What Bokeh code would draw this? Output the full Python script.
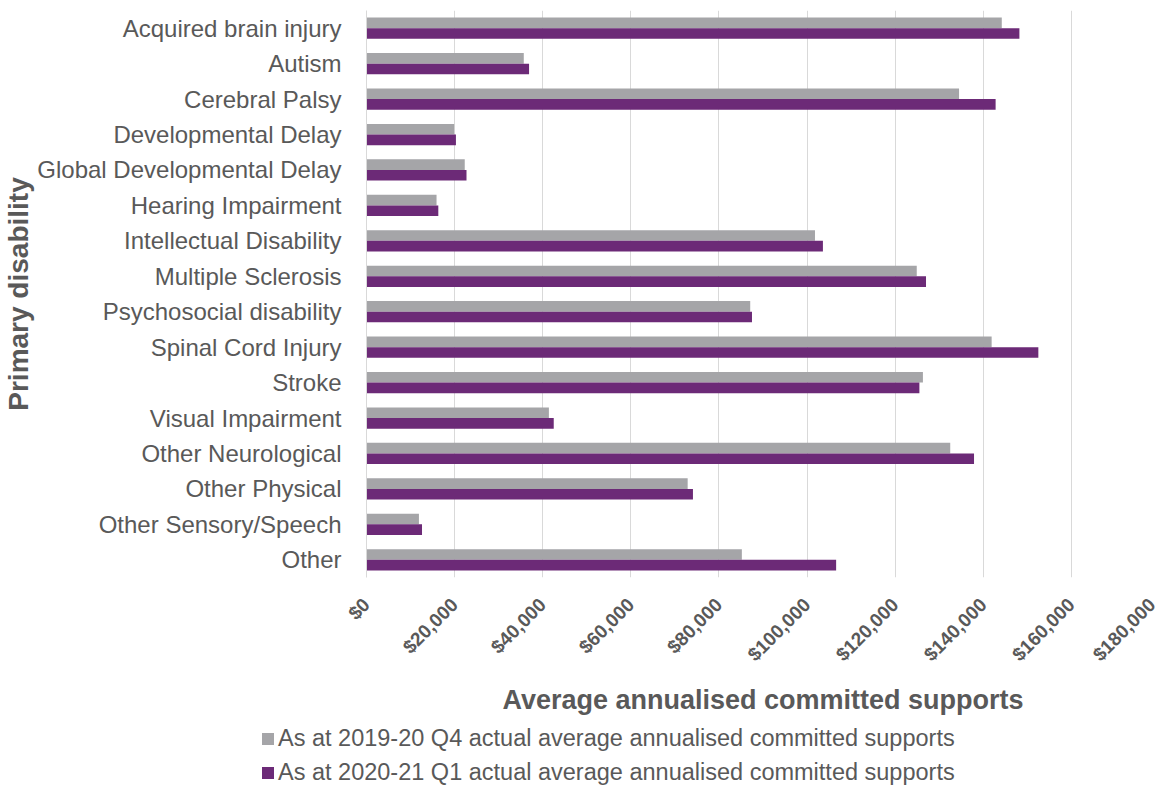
import math
from bokeh.plotting import figure
from bokeh.layouts import column
from bokeh.models import (FactorRange, Range1d, FixedTicker, NumeralTickFormatter,
                          Legend, LegendItem, ColumnDataSource)
from bokeh.transform import dodge
from bokeh.embed import file_html
from bokeh.resources import INLINE

categories = [
    "Acquired brain injury", "Autism", "Cerebral Palsy", "Developmental Delay",
    "Global Developmental Delay", "Hearing Impairment", "Intellectual Disability",
    "Multiple Sclerosis", "Psychosocial disability", "Spinal Cord Injury", "Stroke",
    "Visual Impairment", "Other Neurological", "Other Physical",
    "Other Sensory/Speech", "Other",
]
q4_2019_20 = [144200, 35700, 134500, 19900, 22300, 15900, 101800, 124900,
              87100, 141900, 126300, 41400, 132500, 72900, 11900, 85200]
q1_2020_21 = [148200, 36900, 142800, 20300, 22700, 16300, 103600, 127000,
              87500, 152500, 125500, 42500, 137900, 74100, 12600, 106600]
x_ticks = [0, 20000, 40000, 60000, 80000, 100000, 120000, 140000, 160000, 180000]
series_names = [
    "As at 2019-20 Q4 actual average annualised committed supports",
    "As at 2020-21 Q1 actual average annualised committed supports",
]

GRAY = "#A5A5A8"
PURPLE = "#6C2A77"
TEXT = "#595959"
FONT = "Liberation Sans"

src = ColumnDataSource(dict(cat=categories, a=q4_2019_20, b=q1_2020_21))

p = figure(width=1159, height=718,
           y_range=FactorRange(factors=list(reversed(categories)), range_padding=0),
           x_range=Range1d(0, 180000),
           output_backend="svg", toolbar_location=None,
           min_border_left=357, min_border_right=0, min_border_top=10,
           min_border_bottom=140)

r1 = p.hbar(y=dodge("cat", 0.15, range=p.y_range), left=0, right="a", height=0.3,
            source=src, fill_color=GRAY, line_color=None)
r2 = p.hbar(y=dodge("cat", -0.15, range=p.y_range), left=0, right="b", height=0.3,
            source=src, fill_color=PURPLE, line_color=None)

p.outline_line_color = None
p.ygrid.grid_line_color = None
p.xgrid.grid_line_color = "#D9D9D9"
p.xgrid.grid_line_width = 1

xa = p.xaxis[0]
xa.ticker = FixedTicker(ticks=x_ticks)
xa.formatter = NumeralTickFormatter(format="$0,0")
xa.major_label_orientation = math.pi / 4
xa.axis_line_color = None
xa.major_tick_line_color = None
xa.minor_tick_line_color = None
xa.major_label_text_font = FONT
xa.major_label_text_font_style = "bold"
xa.major_label_text_font_size = "19px"
xa.major_label_text_color = TEXT
xa.major_label_standoff = 18
xa.axis_label = "Average annualised committed supports"
xa.axis_label_text_font = FONT
xa.axis_label_text_font_size = "27px"
xa.axis_label_text_font_style = "bold"
xa.axis_label_text_color = TEXT
xa.axis_label_standoff = 10

ya = p.yaxis[0]
ya.axis_line_color = "#D9D9D9"
ya.major_tick_line_color = None
ya.minor_tick_line_color = None
ya.major_label_text_font = FONT
ya.major_label_text_font_size = "24px"
ya.major_label_text_color = TEXT
ya.major_label_standoff = 19
ya.axis_label = "Primary disability"
ya.axis_label_text_font = FONT
ya.axis_label_text_font_size = "28px"
ya.axis_label_text_font_style = "bold"
ya.axis_label_text_color = TEXT
ya.axis_label_standoff = 0

# legend in its own strip below the chart
leg = figure(width=1159, height=68, x_range=Range1d(0, 1), y_range=Range1d(0, 1),
             x_axis_type=None, y_axis_type=None, output_backend="svg",
             toolbar_location=None, min_border=0)
try:
    leg.frame_align = False
except Exception:
    pass
leg.outline_line_color = None
nan = float("nan")
l1 = leg.hbar(y=[nan], left=[nan], right=[nan], height=1, fill_color=GRAY, line_color=None)
l2 = leg.hbar(y=[nan], left=[nan], right=[nan], height=1, fill_color=PURPLE, line_color=None)
legend = Legend(items=[LegendItem(label=series_names[0], renderers=[l1]),
                       LegendItem(label=series_names[1], renderers=[l2])],
                location=(260, 0), orientation="vertical",
                glyph_width=15, glyph_height=15, label_standoff=3, spacing=7,
                padding=0, margin=0, border_line_color=None,
                background_fill_alpha=0,
                label_text_font=FONT, label_text_font_size="23.5px",
                label_text_color=TEXT)
leg.add_layout(legend, "center")

layout = column(p, leg, spacing=0)
open("out.html", "w").write(file_html(layout, INLINE))
